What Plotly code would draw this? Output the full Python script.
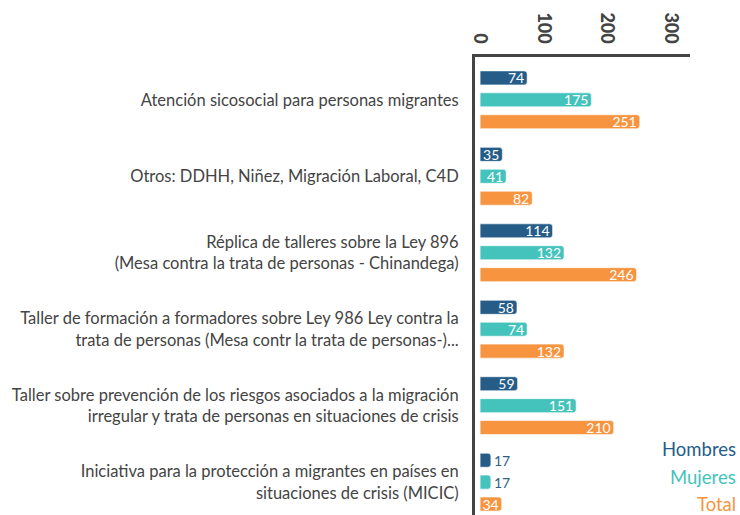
import plotly.graph_objects as go

categories = [
    "Atención sicosocial para personas migrantes",
    "Otros: DDHH, Niñez, Migración Laboral, C4D",
    "Réplica de talleres sobre la Ley 896<br>(Mesa contra la trata de personas - Chinandega)",
    "Taller de formación a formadores sobre Ley 986 Ley contra la<br>trata de personas (Mesa contr la trata de personas-)...",
    "Taller sobre prevención de los riesgos asociados a la migración<br>irregular y trata de personas en situaciones de crisis",
    "Iniciativa para la protección a migrantes en países en<br>situaciones de crisis (MICIC)",
]
hombres = [74, 35, 114, 58, 59, 17]
mujeres = [175, 41, 132, 74, 151, 17]
total = [251, 82, 246, 132, 210, 34]
series_names = ["Hombres", "Mujeres", "Total"]
tick_vals = [0, 100, 200, 300]

colors = ["#255d88", "#44c3bd", "#f6943f"]
font_family = "Lato, 'Open Sans', sans-serif"

fig = go.Figure()
for name, vals, col in zip(series_names, [hombres, mujeres, total], colors):
    fig.add_trace(go.Bar(
        y=categories, x=vals, name=name, orientation="h",
        marker=dict(color=col, line=dict(color="rgba(255,255,255,0.6)", width=1)),
        text=[str(v) for v in vals],
        textposition=["inside" if v >= 30 else "outside" for v in vals],
        textangle=0,
        insidetextanchor="end",
        insidetextfont=dict(color="white", size=14, family=font_family),
        outsidetextfont=dict(color="#2f5f86", size=14, family=font_family),
        constraintext="none",
        cliponaxis=False,
        showlegend=False,
        hoverinfo="skip",
    ))

fig.update_layout(
    width=740, height=515,
    margin=dict(l=475, r=50, t=57, b=0),
    barmode="group", bargap=0.14, bargroupgap=0.36,
    barcornerradius=3,
    plot_bgcolor="white", paper_bgcolor="white",
    font=dict(family=font_family, color="#444"),
    xaxis=dict(
        side="top", range=[-8, 330], tickvals=tick_vals, tickangle=90,
        showgrid=False, zeroline=False, automargin=False,
        showline=True, linecolor="#444", linewidth=3,
        tickfont=dict(size=18, color="#444", family=font_family, weight=900),
        ticks="", ticklabelstandoff=4,
    ),
    yaxis=dict(
        range=[5.43, -0.56], showgrid=False, zeroline=False, automargin=False,
        showline=True, linecolor="#444", linewidth=3,
        tickfont=dict(size=16.5, color="#444", family=font_family),
        ticks="", ticklabelstandoff=10,
    ),
)

for i, (name, col) in enumerate(zip(series_names, colors)):
    fig.add_annotation(
        text=name, xref="paper", yref="paper",
        x=1.0 + 48 / 215, y=(515 - (449 + 27.5 * i)) / 458,
        xanchor="right", yanchor="middle", showarrow=False,
        font=dict(size=18.5, color=col, family=font_family),
    )

fig.write_html(
    "out.html",
    config={"displayModeBar": False},
    post_script="document.body.style.margin='0';document.body.style.overflow='hidden';",
)
